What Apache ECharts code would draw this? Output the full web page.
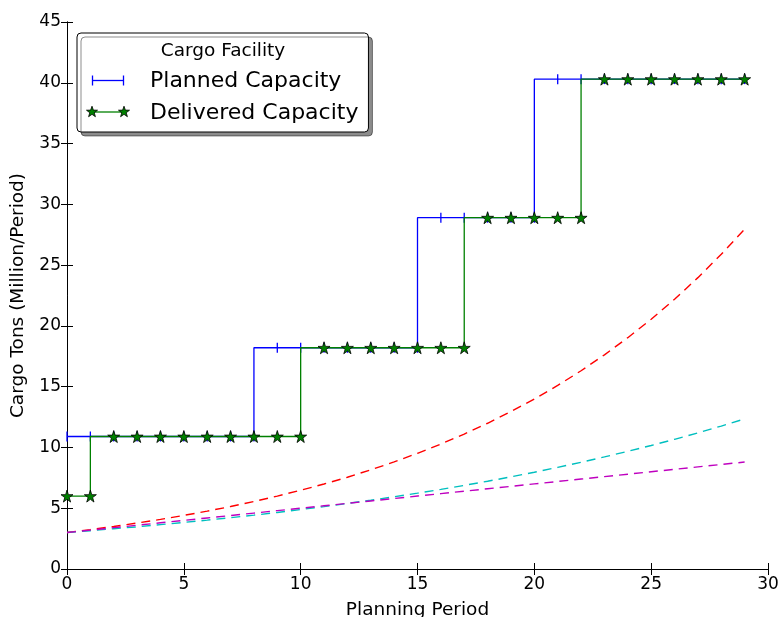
<!DOCTYPE html>
<html>
<head>
<meta charset="utf-8">
<script src="https://cdn.jsdelivr.net/npm/echarts@6/dist/echarts.min.js"></script>
<style>html,body{margin:0;padding:0;background:#fff}#c{width:783px;height:617px}</style>
</head>
<body>
<div id="c"></div>
<script>
// ---- data ----
const periods = [0,1,2,3,4,5,6,7,8,9,10,11,12,13,14,15,16,17,18,19,20,21,22,23,24,25,26,27,28,29];
const plannedCapacity = [10.9,10.9,10.9,10.9,10.9,10.9,10.9,10.9,10.9,18.2,18.2,18.2,18.2,18.2,18.2,18.2,28.9,28.9,28.9,28.9,28.9,40.3,40.3,40.3,40.3,40.3,40.3,40.3,40.3,40.3];
const deliveredCapacity = [6.0,6.0,10.9,10.9,10.9,10.9,10.9,10.9,10.9,10.9,10.9,18.2,18.2,18.2,18.2,18.2,18.2,18.2,28.9,28.9,28.9,28.9,28.9,40.3,40.3,40.3,40.3,40.3,40.3,40.3];
const demandHigh = [3.00,3.24,3.50,3.78,4.08,4.41,4.76,5.14,5.55,6.00,6.48,6.99,7.55,8.16,8.81,9.52,10.28,11.10,11.99,12.95,13.98,15.10,16.31,17.62,19.03,20.55,22.19,23.97,25.89,27.96];
const demandMid = [3.00,3.15,3.31,3.47,3.65,3.83,4.02,4.22,4.43,4.65,4.89,5.13,5.39,5.66,5.94,6.24,6.55,6.88,7.22,7.58,7.96,8.36,8.78,9.22,9.68,10.16,10.67,11.20,11.76,12.35];
const demandLow = [3.0,3.2,3.4,3.6,3.8,4.0,4.2,4.4,4.6,4.8,5.0,5.2,5.4,5.6,5.8,6.0,6.2,6.4,6.6,6.8,7.0,7.2,7.4,7.6,7.8,8.0,8.2,8.4,8.6,8.8];
const xTicks = [0,5,10,15,20,25,30];
const yTicks = [0,5,10,15,20,25,30,35,40,45];
const legendTitle = 'Cargo Facility';
const xName = 'Planning Period';
const yName = 'Cargo Tons (Million/Period)';

const pairs = (ys) => periods.map((x, i) => [x, ys[i]]);
const FONT = 'DejaVu Sans';
const STAR = 'path://M50,0 L61,35 L98,35 L68,57 L79,91 L50,70 L21,91 L32,57 L2,35 L39,35 Z';

function starPoints(cx, cy, r) {
  const pts = [];
  for (let k = 0; k < 10; k++) {
    const rr = k % 2 === 0 ? r : r * 0.4;
    const a = -Math.PI / 2 + k * Math.PI / 5;
    pts.push([cx + rr * Math.cos(a), cy + rr * Math.sin(a)]);
  }
  return pts;
}

const chart = echarts.init(document.getElementById('c'), null, {renderer: 'canvas'});

const axisCommon = {
  axisLine: {show: true, lineStyle: {color: '#000', width: 1}},
  axisTick: {show: true, inside: true, length: 6, lineStyle: {color: '#000', width: 1}},
  splitLine: {show: false}
};

const option = {
  animation: false,
  backgroundColor: '#fff',
  textStyle: {fontFamily: FONT},
  grid: {left: 67, right: 15, top: 22, bottom: 48, containLabel: false, outerBoundsMode: 'none'},
  xAxis: [
    Object.assign({
      type: 'value', min: xTicks[0], max: xTicks[xTicks.length - 1], interval: 5, position: 'bottom',
      name: xName, nameLocation: 'middle', nameGap: 32,
      nameTextStyle: {fontSize: 18.5, color: '#000', fontFamily: FONT},
      axisLabel: {show: true, fontSize: 17, color: '#000', margin: 7, fontFamily: FONT}
    }, axisCommon),
    Object.assign({
      type: 'value', min: xTicks[0], max: xTicks[xTicks.length - 1], interval: 5, position: 'top',
      axisLabel: {show: false}
    }, axisCommon)
  ],
  yAxis: [
    Object.assign({
      type: 'value', min: yTicks[0], max: yTicks[yTicks.length - 1], interval: 5, position: 'left',
      name: yName, nameLocation: 'middle', nameGap: 39, nameRotate: 90,
      nameTextStyle: {fontSize: 18.5, color: '#000', fontFamily: FONT},
      axisLabel: {show: true, fontSize: 17, color: '#000', margin: 6, fontFamily: FONT}
    }, axisCommon),
    Object.assign({
      type: 'value', min: yTicks[0], max: yTicks[yTicks.length - 1], interval: 5, position: 'right',
      axisLabel: {show: false}
    }, axisCommon)
  ],
  legend: {
    left: 77, top: 33,
    orient: 'vertical',
    padding: [37, 10, 8, 12],
    itemWidth: 55, itemHeight: 14, itemGap: 10,
    backgroundColor: '#fff',
    borderColor: '#000', borderWidth: 1, borderRadius: 4,
    shadowColor: 'rgba(0,0,0,0.45)', shadowBlur: 0, shadowOffsetX: 4, shadowOffsetY: 4,
    selectedMode: false,
    textStyle: {fontSize: 22, color: '#000', fontFamily: FONT},
    data: [
      {name: 'Planned Capacity', icon: 'rect', itemStyle: {color: 'rgba(0,0,0,0)', opacity: 0}},
      {name: 'Delivered Capacity', icon: 'rect', itemStyle: {color: 'rgba(0,0,0,0)', opacity: 0}}
    ]
  },
  graphic: [
    {type: 'text', z: 100, style: {text: legendTitle, x: 223, y: 51, align: 'center', verticalAlign: 'middle', fontSize: 18.5, fontFamily: FONT, fill: '#000'}},
    {type: 'line', z: 100, shape: {x1: 92, y1: 80.5, x2: 124, y2: 80.5}, style: {stroke: '#0000ff', lineWidth: 1.3}},
    {type: 'line', z: 100, shape: {x1: 92.5, y1: 75.5, x2: 92.5, y2: 85.5}, style: {stroke: '#0000ff', lineWidth: 1.3}},
    {type: 'line', z: 100, shape: {x1: 123.5, y1: 75.5, x2: 123.5, y2: 85.5}, style: {stroke: '#0000ff', lineWidth: 1.3}},
    {type: 'line', z: 100, shape: {x1: 92, y1: 112, x2: 124, y2: 112}, style: {stroke: '#008000', lineWidth: 1.3}},
    {type: 'polygon', z: 101, shape: {points: starPoints(92, 112, 5.8)}, style: {fill: '#008000', stroke: '#000', lineWidth: 0.8}},
    {type: 'polygon', z: 101, shape: {points: starPoints(124, 112, 5.8)}, style: {fill: '#008000', stroke: '#000', lineWidth: 0.8}}
  ],
  series: [
    {
      name: 'Planned Capacity', type: 'line', step: 'start', data: pairs(plannedCapacity),
      xAxisIndex: 0, yAxisIndex: 0,
      lineStyle: {color: '#0000ff', width: 1.3},
      itemStyle: {color: '#0000ff'},
      symbol: 'rect', symbolSize: [1.3, 10], showAllSymbol: true, z: 2
    },
    {
      name: 'Delivered Capacity', type: 'line', step: 'start', data: pairs(deliveredCapacity),
      xAxisIndex: 0, yAxisIndex: 0,
      lineStyle: {color: '#008000', width: 1.3},
      itemStyle: {color: '#008000', borderColor: '#000', borderWidth: 0.8},
      symbol: STAR, symbolSize: 12, showAllSymbol: true, z: 3
    },
    {
      name: 'High demand', type: 'line', data: pairs(demandHigh), symbol: 'none',
      lineStyle: {color: '#ff0000', width: 1.4, type: [9, 6]}, z: 4
    },
    {
      name: 'Mid demand', type: 'line', data: pairs(demandMid), symbol: 'none',
      lineStyle: {color: '#00bfbf', width: 1.4, type: [9, 6]}, z: 4
    },
    {
      name: 'Low demand', type: 'line', data: pairs(demandLow), symbol: 'none',
      lineStyle: {color: '#bf00bf', width: 1.4, type: [9, 6]}, z: 4
    }
  ]
};
chart.setOption(option);
</script>
</body>
</html>
